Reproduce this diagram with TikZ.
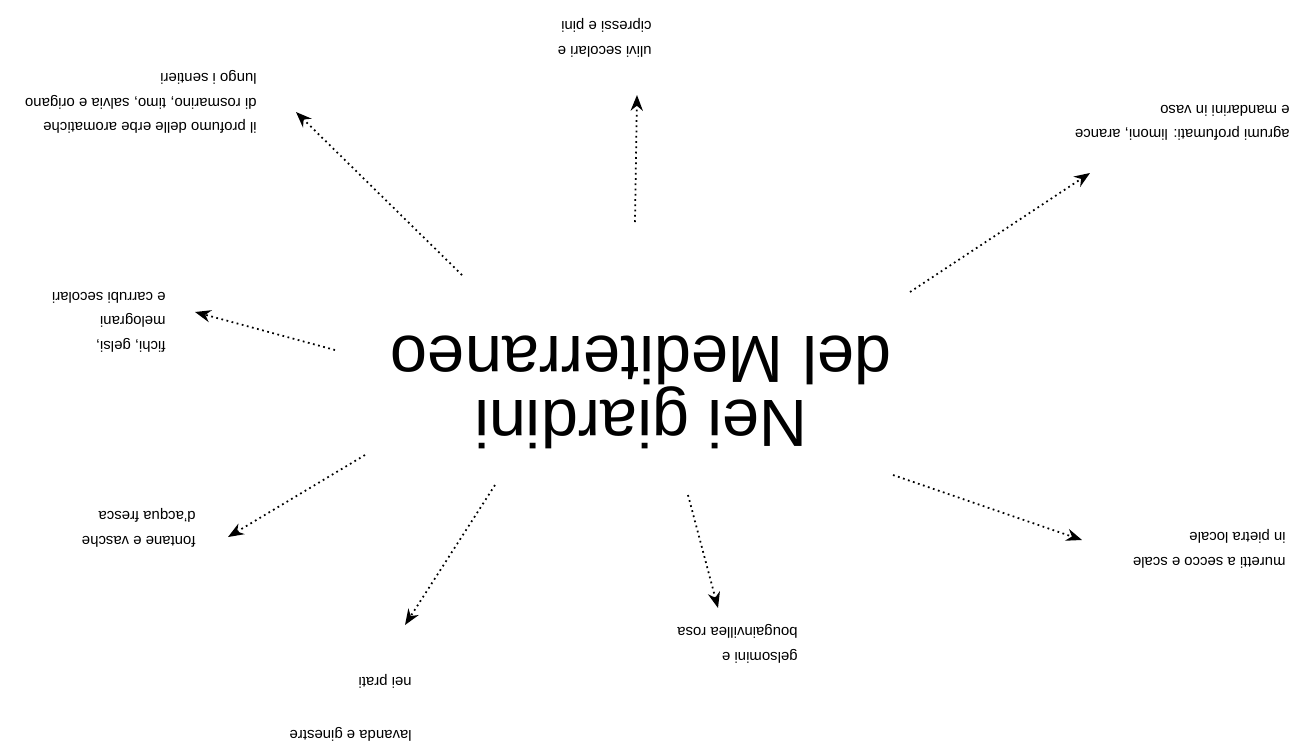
\documentclass[tikz,border=0pt]{standalone}
\usepackage{fontspec}
\setmainfont{Liberation Sans}
\usetikzlibrary{arrows.meta}
\begin{document}
\begin{tikzpicture}[x=0.02cm,y=-0.02cm,
 lbl/.style={rotate=180,anchor=west,align=left,inner sep=0pt,font=\fontsize{8.5}{14}\selectfont},
 titlebox/.style={rotate=180,align=center,inner sep=0pt,font=\fontsize{38}{25}\selectfont},
 conn/.style={dotted,line width=1pt,-{Stealth[length=9pt,width=7pt]}}]
\useasboundingbox (0,0) rectangle (1292,755);
\node[titlebox] (title) at (641,392) {Nei giardini\\del Mediterraneo};
% labels
\node[lbl] (l1) at (257,102) {il profumo delle erbe aromatiche\\di rosmarino, timo, salvia e origano\\lungo i sentieri};
\node[lbl] (l2) at (652,38) {ulivi secolari e\\cipressi e pini};
\node[lbl] (l3) at (1290,123) {agrumi profumati: limoni, arance\\e mandarini in vaso};
\node[lbl] (l4) at (166,322) {fichi, gelsi,\\melograni\\e carrubi secolari};
\node[lbl] (l5) at (196,528) {fontane e vasche\\d'acqua fresca};
\node[lbl] (l6) at (1286,549) {muretti a secco e scale\\in pietra locale};
\node[lbl] (l7) at (798,644) {gelsomini e\\bougainvillea rosa};
\node[lbl] (l8) at (412,708) {lavanda e ginestre\\[16pt]nei prati};
% connector ends
\coordinate (s1) at (462,275); \coordinate (t1) at (296,112);
\coordinate (s2) at (635,222); \coordinate (t2) at (637,95);
\coordinate (s3) at (910,292); \coordinate (t3) at (1090,173);
\coordinate (s4) at (335,350); \coordinate (t4) at (195,312);
\coordinate (s5) at (365,455); \coordinate (t5) at (228,537);
\coordinate (s6) at (495,485); \coordinate (t6) at (405,625);
\coordinate (s7) at (688,495); \coordinate (t7) at (718,608);
\coordinate (s8) at (893,475); \coordinate (t8) at (1082,540);
\foreach \i in {1,...,8} {\draw[conn] (s\i) -- (t\i);}
\end{tikzpicture}
\end{document}
